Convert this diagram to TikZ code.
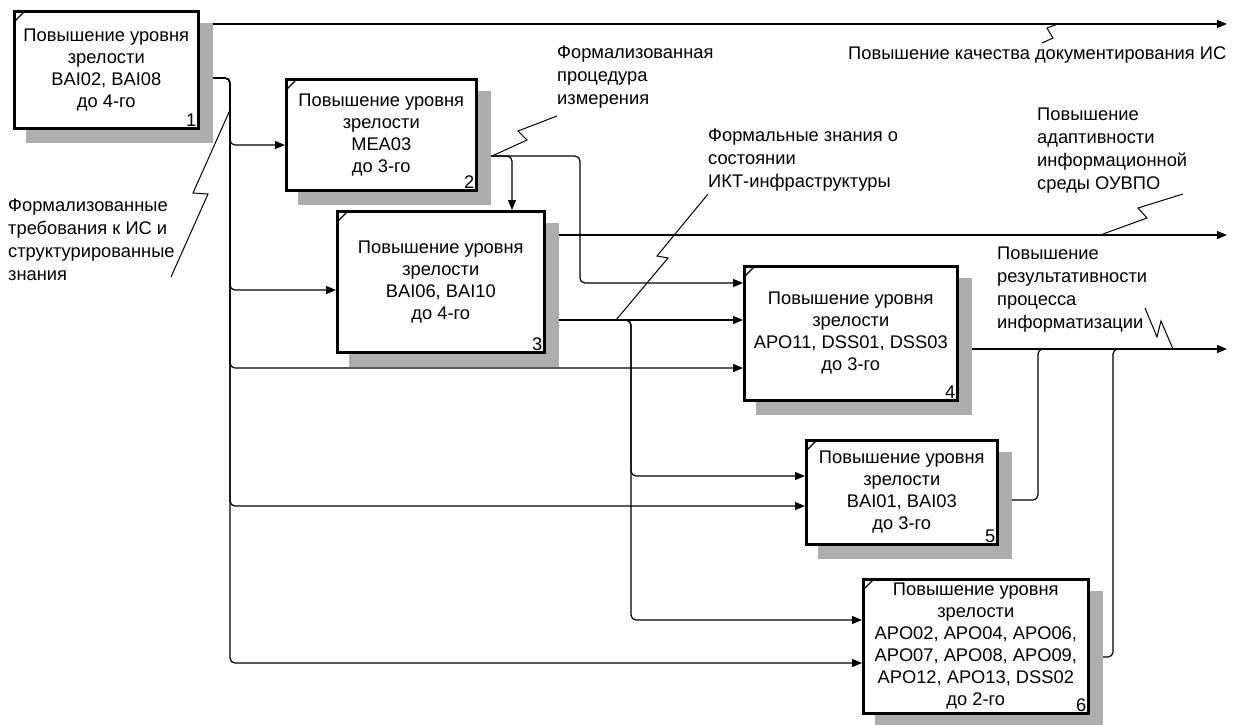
\documentclass[tikz,border=0pt]{standalone}
\usepackage{fontspec}
\setmainfont{Liberation Sans}
\usetikzlibrary{arrows.meta,calc}
\pgfdeclarelayer{bg}
\pgfdeclarelayer{mid}
\pgfsetlayers{bg,mid,main}
\newcommand\diagfont{\fontsize{18.3}{22}\selectfont}
\newcommand\labfont{\fontsize{18.3}{23}\selectfont}
\tikzset{
 box/.style={draw, line width=2.6pt, fill=white, anchor=north west, align=center, font=\diagfont, inner sep=1pt},
 num/.style={anchor=south east, font=\diagfont, inner sep=3pt},
 lbl/.style={anchor=north west, align=left, font=\labfont, inner sep=0pt},
 conn/.style={line width=1.2pt, rounded corners=5pt},
 arr/.style={conn, -{Triangle[length=10pt,width=8pt]}},
 sq/.style={line width=1pt},
 shadowfill/.style={fill=black!32},
 cornermark/.style={line width=1.3pt},
}
\begin{document}
\begin{tikzpicture}[x=1pt,y=-1pt]
\useasboundingbox (0,0) rectangle (1235,724);
% boxes
\node[box, minimum width=184pt, minimum height=117pt] (b1) at (13,10) {Повышение уровня\\зрелости\\BAI02, BAI08\\до 4-го};
\node[box, minimum width=190pt, minimum height=111pt] (b2) at (285,78) {Повышение уровня\\зрелости\\MEA03\\до 3-го};
\node[box, minimum width=207pt, minimum height=141pt] (b3) at (336,210) {Повышение уровня\\зрелости\\BAI06, BAI10\\до 4-го};
\node[box, minimum width=213pt, minimum height=134pt] (b4) at (743,265) {Повышение уровня\\зрелости\\APO11, DSS01, DSS03\\до 3-го};
\node[box, minimum width=191pt, minimum height=104pt] (b5) at (805,439) {Повышение уровня\\зрелости\\BAI01, BAI03\\до 3-го};
\node[box, minimum width=225pt, minimum height=134pt] (b6) at (862,578) {Повышение уровня\\зрелости\\APO02, APO04, APO06,\\APO07, APO08, APO09,\\APO12, APO13, DSS02\\до 2-го};
\foreach \i in {1,...,6} {
  \node[num] (n\i) at (b\i.south east) {\i};
  \draw[cornermark] ($(b\i.north west)+(2,11)$) -- ($(b\i.north west)+(11,2)$);
}
% shadows
\begin{pgfonlayer}{mid}
\foreach \i in {1,...,6}
  \fill[shadowfill] ($(b\i.north west)+(13,13)$) rectangle ($(b\i.south east)+(13,13)$);
\end{pgfonlayer}
% labels
\node[lbl] (Ldoc) at (848,47) {Повышение качества документирования ИС};
\node[lbl] (Lproc) at (557,46) {Формализованная\\процедура\\измерения};
\node[lbl] (Likt) at (708,129) {Формальные знания о\\состоянии\\ИКТ-инфраструктуры};
\node[lbl] (Ladapt) at (1037,108) {Повышение\\адаптивности\\информационной\\среды ОУВПО};
\node[lbl] (Lres) at (997,247) {Повышение\\результативности\\процесса\\информатизации};
\node[lbl] (Lreq) at (8,199) {Формализованные\\требования к ИС и\\структурированные\\знания};
% connectors
\begin{pgfonlayer}{bg}
\coordinate (o1) at (1227,24);
\coordinate (k1) at (230,78);
\draw[arr] (b1.east |- o1) -- (o1);
\foreach \y/\t in {145/b2, 290/b3, 368/b4, 506/b5, 663/b6} {
  \coordinate (lv) at (0,\y);
  \draw[arr] (b1.east |- k1) -- (k1) -- (k1 |- lv) -- (\t.west |- lv);
}
\coordinate (k2) at (512,156);
\coordinate (k3) at (580,156);
\coordinate (lvA) at (0,283);
\draw[arr] (b2.east |- k2) -- (k2) -- (k2 |- b3.north);
\draw[arr] (b2.east |- k3) -- (k3) -- (k3 |- lvA) -- (b4.west |- lvA);
\coordinate (o3) at (1227,235);
\draw[arr] (b3.east |- o3) -- (o3);
\coordinate (k4) at (631,320);
\coordinate (lvB) at (0,476);
\coordinate (lvC) at (0,620);
\draw[arr] (b3.east |- k4) -- (b4.west |- k4);
\draw[arr] (b3.east |- k4) -- (k4) -- (k4 |- lvB) -- (b5.west |- lvB);
\draw[arr] (b3.east |- k4) -- (k4) -- (k4 |- lvC) -- (b6.west |- lvC);
\coordinate (o4) at (1227,349);
\draw[arr] (b4.east |- o4) -- (o4);
\coordinate (k5) at (1038,500);
\draw[conn] (b5.east |- k5) -- (k5) -- (k5 |- o4) -- ++(12,0);
\coordinate (k6) at (1113,657);
\draw[conn] (b6.east |- k6) -- (k6) -- (k6 |- o4) -- ++(12,0);
% squiggles
\coordinate (s1) at (1058,24);
\draw[sq] (s1) -- ++(-11,4) -- ++(6,10) -- ++(-11,5);
\coordinate (s2) at (492,156);
\draw[sq] (s2) -- ++(35,-16) -- ++(-9,-9) -- ++(39,-15);
\coordinate (s3) at (616,320);
\draw[sq] (s3) -- ++(52,-62) -- ++(-11,-2) -- ++(51,-62);
\coordinate (s4) at (1103,234);
\draw[sq] (s4) -- ++(44,-16) -- ++(-9,-10) -- ++(45,-14);
\coordinate (s5) at (1173,349);
\draw[sq] (s5) -- ++(-12,-28) -- ++(-4,16) -- ++(-12,-29);
\coordinate (s6) at (230,110);
\draw[sq] (s6) -- ++(-37,83) -- ++(15,1) -- ++(-37,83);
\end{pgfonlayer}
\end{tikzpicture}
\end{document}
